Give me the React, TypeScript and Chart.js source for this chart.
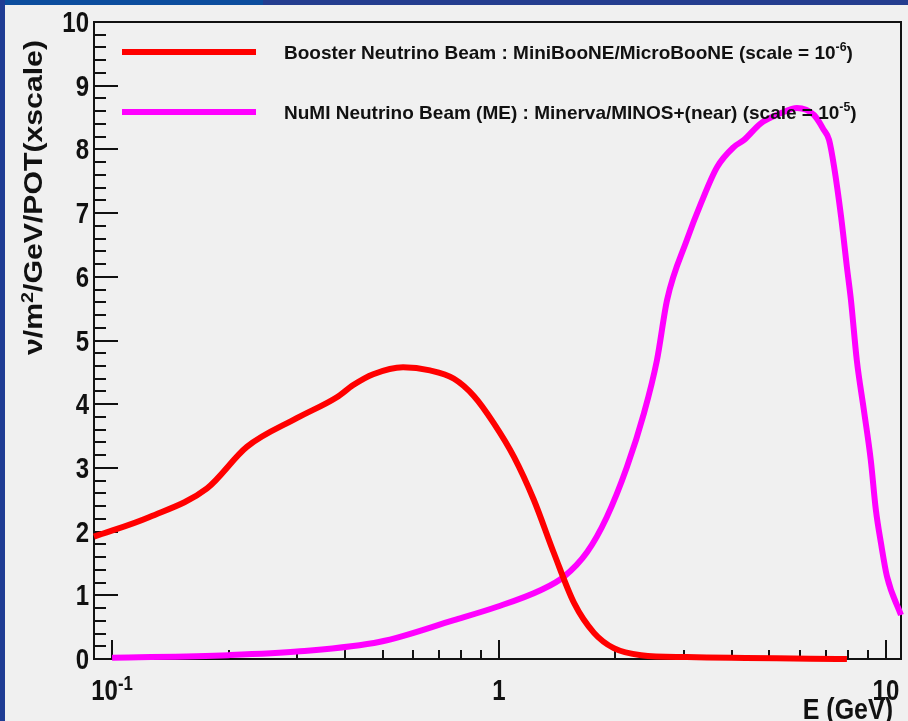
import { useEffect, useRef } from "react";
import { Chart, registerables } from "chart.js";

Chart.register(...registerables);

// ---------- data ----------
const boosterEnergy = [0.0898, 0.125, 0.176, 0.223, 0.3, 0.381, 0.42, 0.473, 0.565, 0.663, 0.765, 0.861, 0.97, 1.094, 1.23, 1.387, 1.563, 1.76, 1.98, 2.33, 3.06, 7.93];
const boosterFlux = [1.92, 2.23, 2.68, 3.33, 3.78, 4.11, 4.3, 4.47, 4.58, 4.53, 4.4, 4.13, 3.7, 3.17, 2.5, 1.66, 0.88, 0.41, 0.17, 0.06, 0.03, 0.0];

const numiEnergy = [0.1, 0.2, 0.306, 0.493, 0.765, 0.989, 1.28, 1.47, 1.69, 1.9, 2.14, 2.37, 2.56, 2.72, 3.06, 3.33, 3.66, 4.05, 4.3, 4.75, 5.36, 5.89, 6.52, 6.92, 7.13, 7.35, 7.66, 7.93, 8.12, 8.41, 8.77, 9.14, 9.42, 9.71, 10.07, 10.94];
const numiFlux = [0.02, 0.06, 0.12, 0.27, 0.61, 0.82, 1.08, 1.29, 1.68, 2.23, 3.01, 3.86, 4.69, 5.64, 6.58, 7.16, 7.72, 8.04, 8.15, 8.41, 8.57, 8.65, 8.54, 8.3, 8.15, 7.72, 6.94, 6.15, 5.64, 4.69, 3.91, 3.12, 2.34, 1.82, 1.29, 0.69];

const xMin = 0.0898;
const xMax = 10.94;
const yMin = 0;
const yMax = 10;

const xMajorTicks = [0.1, 1, 10];
const xMajorLabelBase = ["10", "1", "10"];
const xMajorLabelExp = ["-1", "", ""];
const xMinorTicks = [0.2, 0.3, 0.4, 0.5, 0.6, 0.7, 0.8, 0.9, 2, 3, 4, 5, 6, 7, 8, 9];
const yMajorTicks = [0, 1, 2, 3, 4, 5, 6, 7, 8, 9, 10];
const yTickLabels = ["0", "1", "2", "3", "4", "5", "6", "7", "8", "9", "10"];
const yMinorStep = 0.2;

const seriesNames = ["Booster Neutrino Beam", "NuMI Neutrino Beam (ME)"];
const legendMain = [
  "Booster Neutrino Beam : MiniBooNE/MicroBooNE (scale = 10",
  "NuMI Neutrino Beam (ME) : Minerva/MINOS+(near) (scale = 10",
];
const legendExp = ["-6", "-5"];
const seriesColors = ["#ff0000", "#ff00ff"];

const xTitle = "E (GeV)";
const yTitleParts = ["ν/m", "2", "/GeV/POT(xscale)"];

const FAMILY = '"Liberation Sans", Arial, Helvetica, sans-serif';
const INK = "#111111";

type Seg = { t: string; sup?: boolean };

function segWidth(ctx: CanvasRenderingContext2D, segs: Seg[], size: number, weight: string, supScale: number) {
  let w = 0;
  for (const s of segs) {
    ctx.font = `${weight} ${s.sup ? size * supScale : size}px ${FAMILY}`;
    w += ctx.measureText(s.t).width;
  }
  return w;
}

function drawSegs(ctx: CanvasRenderingContext2D, segs: Seg[], x: number, y: number, size: number, weight: string, supScale: number, raise: number) {
  let cx = x;
  ctx.textAlign = "left";
  ctx.textBaseline = "alphabetic";
  for (const s of segs) {
    ctx.font = `${weight} ${s.sup ? size * supScale : size}px ${FAMILY}`;
    ctx.fillText(s.t, cx, s.sup ? y - raise : y);
    cx += ctx.measureText(s.t).width;
  }
}

const backgroundPlugin = {
  id: "pageBackground",
  beforeDraw(chart: any) {
    const { ctx, width, height } = chart;
    ctx.save();
    ctx.fillStyle = "#f0f0f0";
    ctx.fillRect(0, 0, width, height);
    ctx.fillStyle = "#0c4d9e";
    ctx.fillRect(0, 0, 263, 5);
    ctx.fillStyle = "#243d8f";
    ctx.fillRect(263, 0, width - 263, 5);
    ctx.fillStyle = "#1f3c94";
    ctx.fillRect(0, 0, 5, height);
    ctx.restore();
  },
};

const axesPlugin = {
  id: "rootAxes",
  beforeDatasetsDraw(chart: any) {
    const { ctx, chartArea } = chart;
    const xs = chart.scales.x;
    const ys = chart.scales.y;
    const { left, right, top, bottom } = chartArea;
    ctx.save();
    ctx.strokeStyle = INK;
    ctx.lineWidth = 2;
    // y ticks (inside)
    for (let i = 0; i <= Math.round((yMax - yMin) / yMinorStep); i++) {
      const v = yMin + i * yMinorStep;
      const isMajor = Math.abs(v - Math.round(v)) < 1e-6;
      const py = Math.round(ys.getPixelForValue(v));
      ctx.beginPath();
      ctx.moveTo(left, py);
      ctx.lineTo(left + (isMajor ? 24 : 12), py);
      ctx.stroke();
    }
    // x ticks (inside)
    for (const v of xMajorTicks) {
      const px = Math.round(xs.getPixelForValue(v));
      ctx.beginPath();
      ctx.moveTo(px, bottom);
      ctx.lineTo(px, bottom - 19);
      ctx.stroke();
    }
    for (const v of xMinorTicks) {
      const px = Math.round(xs.getPixelForValue(v));
      ctx.beginPath();
      ctx.moveTo(px, bottom);
      ctx.lineTo(px, bottom - 9);
      ctx.stroke();
    }
    // frame
    ctx.strokeRect(left, top, right - left, bottom - top);
    ctx.restore();
  },
  afterDatasetsDraw(chart: any) {
    const { ctx, chartArea } = chart;
    const xs = chart.scales.x;
    const ys = chart.scales.y;
    const { left, bottom } = chartArea;
    const stretch = 1.2;
    ctx.save();
    ctx.fillStyle = INK;
    // y tick labels
    yMajorTicks.forEach((v, i) => {
      const segs: Seg[] = [{ t: yTickLabels[i] }];
      const w = segWidth(ctx, segs, 24, "bold", 0.7);
      const py = ys.getPixelForValue(v);
      ctx.save();
      ctx.translate(left - 5 - w, py + 10);
      ctx.scale(1, stretch);
      drawSegs(ctx, segs, 0, 0, 24, "bold", 0.7, 8);
      ctx.restore();
    });
    // x tick labels
    xMajorTicks.forEach((v, i) => {
      const segs: Seg[] = [{ t: xMajorLabelBase[i] }];
      if (xMajorLabelExp[i]) segs.push({ t: xMajorLabelExp[i], sup: true });
      const w = segWidth(ctx, segs, 24, "bold", 0.7);
      const px = xs.getPixelForValue(v);
      ctx.save();
      ctx.translate(px - w / 2, bottom + 41);
      ctx.scale(1, stretch);
      drawSegs(ctx, segs, 0, 0, 24, "bold", 0.7, 8.5);
      ctx.restore();
    });
    // x title
    {
      const segs: Seg[] = [{ t: xTitle }];
      const w = segWidth(ctx, segs, 25, "bold", 0.7);
      ctx.save();
      ctx.translate(893 - w, 719);
      ctx.scale(1, stretch);
      drawSegs(ctx, segs, 0, 0, 25, "bold", 0.7, 8);
      ctx.restore();
    }
    // y title (rotated)
    {
      const segs: Seg[] = [{ t: yTitleParts[0] }, { t: yTitleParts[1], sup: true }, { t: yTitleParts[2] }];
      const w = segWidth(ctx, segs, 26, "bold", 0.65);
      const sx = 315 / w;
      ctx.save();
      ctx.translate(42, 40);
      ctx.rotate(-Math.PI / 2);
      ctx.scale(sx, 1);
      drawSegs(ctx, segs, -w, 0, 26, "bold", 0.65, 9);
      ctx.restore();
    }
    // legend
    const legendY = [52, 112];
    seriesNames.forEach((_, i) => {
      ctx.strokeStyle = seriesColors[i];
      ctx.lineWidth = 6;
      ctx.lineCap = "butt";
      ctx.beginPath();
      ctx.moveTo(122, legendY[i]);
      ctx.lineTo(256, legendY[i]);
      ctx.stroke();
      ctx.fillStyle = INK;
      const segs: Seg[] = [{ t: legendMain[i] }, { t: legendExp[i], sup: true }, { t: ")" }];
      drawSegs(ctx, segs, 284, legendY[i] + 7, 19, "bold", 0.65, 8);
    });
    ctx.restore();
  },
};

export default function App() {
  const canvasRef = useRef<HTMLCanvasElement | null>(null);

  useEffect(() => {
    const canvas = canvasRef.current;
    if (!canvas) return;
    const chart = new Chart(canvas, {
      type: "line",
      data: {
        datasets: [
          {
            label: seriesNames[0],
            data: boosterEnergy.map((e, i) => ({ x: e, y: boosterFlux[i] })),
            borderColor: seriesColors[0],
            backgroundColor: seriesColors[0],
            borderWidth: 6,
            pointRadius: 0,
            cubicInterpolationMode: "monotone",
            borderJoinStyle: "round",
            fill: false,
            clip: false as any,
          },
          {
            label: seriesNames[1],
            data: numiEnergy.map((e, i) => ({ x: e, y: numiFlux[i] })),
            borderColor: seriesColors[1],
            backgroundColor: seriesColors[1],
            borderWidth: 6,
            pointRadius: 0,
            cubicInterpolationMode: "monotone",
            borderJoinStyle: "round",
            fill: false,
            clip: false as any,
          },
        ],
      },
      options: {
        responsive: false,
        animation: false,
        devicePixelRatio: 1,
        layout: { padding: { left: 94, top: 22, right: 7, bottom: 62 } },
        plugins: { legend: { display: false }, tooltip: { enabled: false } },
        scales: {
          x: { type: "logarithmic", min: xMin, max: xMax, display: false },
          y: { type: "linear", min: yMin, max: yMax, display: false },
        },
      },
      plugins: [backgroundPlugin, axesPlugin],
    } as any);
    return () => chart.destroy();
  }, []);

  return (
    <div style={{ position: "fixed", left: 0, top: 0, width: 908, height: 721, background: "#f0f0f0" }}>
      <canvas ref={canvasRef} width={908} height={721} style={{ display: "block", width: 908, height: 721 }} />
    </div>
  );
}
